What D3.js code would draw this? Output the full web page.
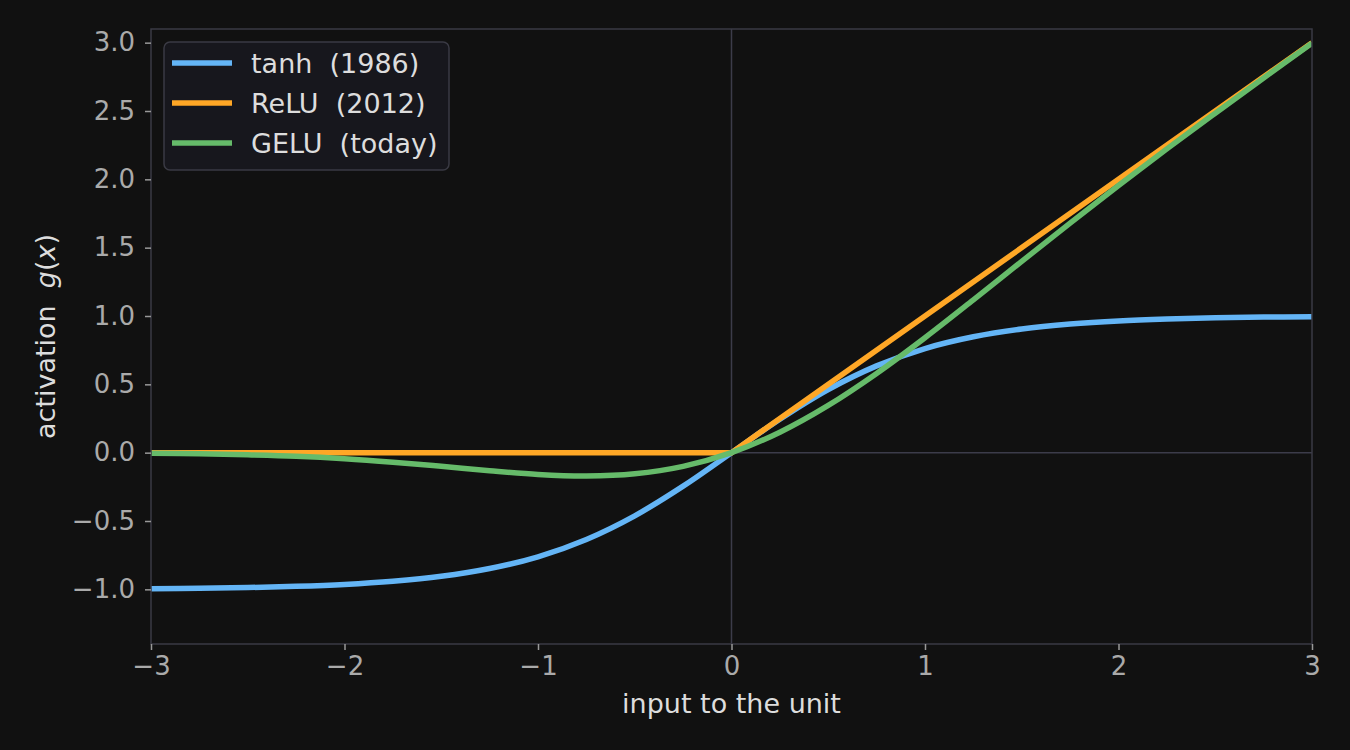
<!DOCTYPE html>
<html><head><meta charset="utf-8">
<script src="https://cdn.jsdelivr.net/npm/d3@7"></script>
<style>
html,body{margin:0;padding:0;background:#111111;}
svg{display:block;font-family:"DejaVu Sans",sans-serif;}
text{white-space:pre;}
</style></head>
<body>
<svg id="c" width="1350" height="750"></svg>
<script>
// ---- data ----
const xs = [-3,-2.75,-2.5,-2.25,-2,-1.75,-1.5,-1.25,-1,-0.75,-0.5,-0.25,0,0.25,0.5,0.75,1,1.25,1.5,1.75,2,2.25,2.5,2.75,3];
const tanhVals = [-0.995,-0.992,-0.987,-0.978,-0.964,-0.941,-0.905,-0.848,-0.762,-0.635,-0.462,-0.245,0,0.245,0.462,0.635,0.762,0.848,0.905,0.941,0.964,0.978,0.987,0.992,0.995];
const geluVals = [-0.004,-0.008,-0.016,-0.027,-0.045,-0.070,-0.100,-0.132,-0.159,-0.170,-0.154,-0.100,0,0.150,0.346,0.580,0.841,1.118,1.400,1.680,1.955,2.223,2.484,2.742,2.996];
const reluX = [-3,0,3];
const reluVals = [0,0,3];
const xTicks = [-3,-2,-1,0,1,2,3];
const yTicks = [-1.0,-0.5,0.0,0.5,1.0,1.5,2.0,2.5,3.0];
const seriesNames = ["tanh  (1986)","ReLU  (2012)","GELU  (today)"];
const seriesColors = ["#64b5f6","#ffa726","#66bb6a"];

const W=1350,H=750, m={l:151,r:38,t:29,b:106};
const svg=d3.select("#c");
svg.append("rect").attr("width",W).attr("height",H).attr("fill","#111111");
const x=d3.scaleLinear().domain([-3,3]).range([m.l,W-m.r]);
const y=d3.scaleLinear().domain([-1.4,3.1]).range([H-m.b,m.t]);
const minus=s=>s.replace("-","\u2212");

svg.append("defs").append("clipPath").attr("id","clip").append("rect")
  .attr("x",m.l).attr("y",m.t).attr("width",W-m.l-m.r).attr("height",H-m.t-m.b);

// zero lines
svg.append("line").attr("x1",x(0)).attr("x2",x(0)).attr("y1",m.t).attr("y2",H-m.b)
  .attr("stroke","#3c3c4a").attr("stroke-width",1.5);
svg.append("line").attr("x1",m.l).attr("x2",W-m.r).attr("y1",y(0)).attr("y2",y(0))
  .attr("stroke","#3c3c4a").attr("stroke-width",1.5);

// series
const g=svg.append("g").attr("clip-path","url(#clip)");
const smooth=d3.line().x(d=>x(d[0])).y(d=>y(d[1])).curve(d3.curveCatmullRom);
const straight=d3.line().x(d=>x(d[0])).y(d=>y(d[1]));
const data=[
  {pts:xs.map((v,i)=>[v,tanhVals[i]]),gen:smooth},
  {pts:reluX.map((v,i)=>[v,reluVals[i]]),gen:straight},
  {pts:xs.map((v,i)=>[v,geluVals[i]]),gen:smooth}
];
data.forEach((s,i)=>{
  g.append("path").attr("d",s.gen(s.pts)).attr("fill","none")
   .attr("stroke",seriesColors[i]).attr("stroke-width",5.5).attr("stroke-linejoin","round");
});

// spines
svg.append("rect").attr("x",m.l).attr("y",m.t).attr("width",W-m.l-m.r).attr("height",H-m.t-m.b)
  .attr("fill","none").attr("stroke","#3a3a44").attr("stroke-width",1.5);

// axes
const xa=svg.append("g").attr("transform",`translate(0,${H-m.b})`)
  .call(d3.axisBottom(x).tickValues(xTicks).tickSize(6).tickPadding(7).tickFormat(d=>minus(d3.format("d")(d))));
const ya=svg.append("g").attr("transform",`translate(${m.l},0)`)
  .call(d3.axisLeft(y).tickValues(yTicks).tickSize(6).tickPadding(10).tickFormat(d=>minus(d3.format(".1f")(d))));
[xa,ya].forEach(a=>{
  a.select(".domain").remove();
  a.selectAll(".tick line").attr("stroke","#999999").attr("stroke-width",1.5);
  a.selectAll(".tick text").attr("fill","#aaaaaa").attr("font-size",26).attr("font-family","DejaVu Sans");
});

// axis labels
svg.append("text").attr("x",x(0)).attr("y",713).attr("text-anchor","middle")
  .attr("fill","#dddddd").attr("font-size",27).text("input to the unit");
const yl=svg.append("text").attr("transform",`translate(55,${(m.t+H-m.b)/2}) rotate(-90)`)
  .attr("text-anchor","middle").attr("fill","#dddddd").attr("font-size",27);
yl.append("tspan").text("activation  ");
yl.append("tspan").attr("font-style","italic").text("g");
yl.append("tspan").text("(");
yl.append("tspan").attr("font-style","italic").text("x");
yl.append("tspan").text(")");

// legend
const lg=svg.append("g").attr("transform","translate(164,42)");
lg.append("rect").attr("width",285).attr("height",128).attr("rx",6)
  .attr("fill","#17171d").attr("stroke","#3a3a44").attr("stroke-width",1.5);
seriesNames.forEach((n,i)=>{
  const yy=21+i*40;
  lg.append("line").attr("x1",8).attr("x2",68).attr("y1",yy).attr("y2",yy)
    .attr("stroke",seriesColors[i]).attr("stroke-width",5.5);
  lg.append("text").attr("x",87).attr("y",yy+10).attr("fill","#dddddd")
    .attr("font-size",27).text(n);
});
</script>
</body></html>
